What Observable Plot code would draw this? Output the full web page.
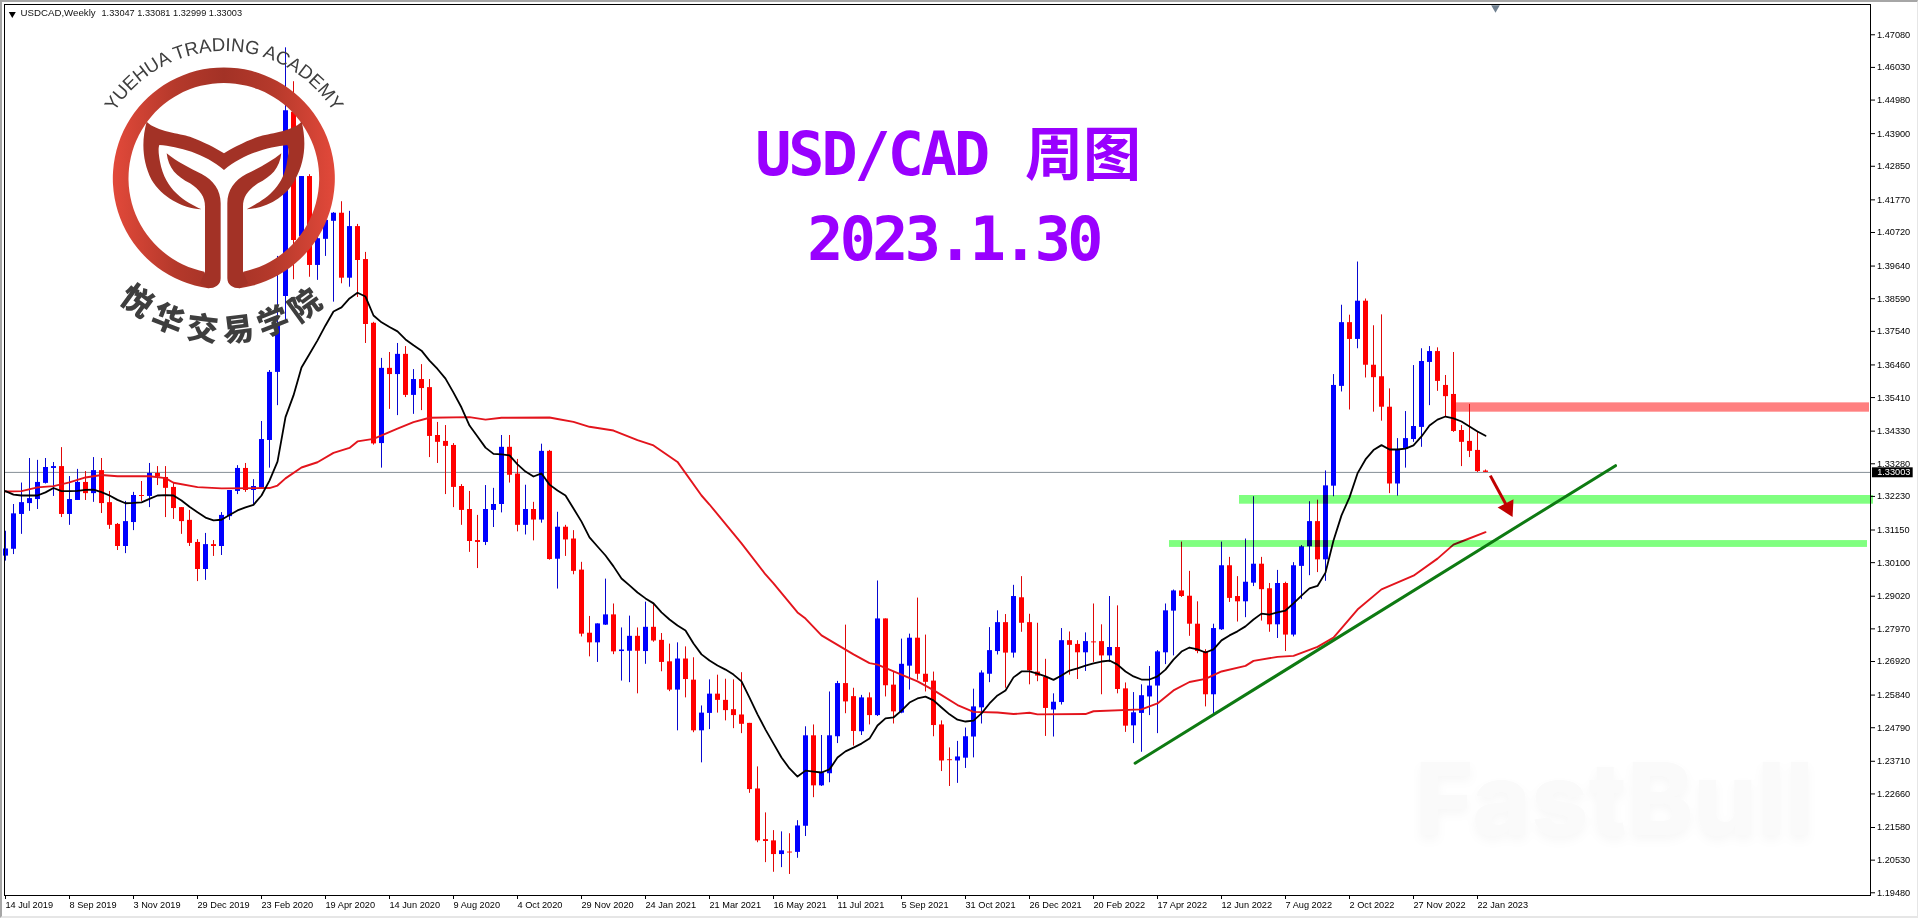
<!DOCTYPE html>
<html>
<head>
<meta charset="utf-8">
<script src="https://cdn.jsdelivr.net/npm/d3@7"></script>
<script src="https://cdn.jsdelivr.net/npm/@observablehq/plot@0.6"></script>
<style>
html,body{margin:0;padding:0;background:#fff;overflow:hidden}
#wrap{position:relative;width:1918px;height:918px;overflow:hidden}
#wrap svg{display:block;background:#fff}
#edge{position:absolute;left:0;top:0;width:1918px;height:918px;box-sizing:border-box;pointer-events:none;
 border-top:2px solid #a6a6a6;border-left:2px solid #a6a6a6;border-bottom:2px solid #e6e6e6;border-right:1px solid #e6e6e6}
.wm{filter:drop-shadow(0 5px 5px rgba(0,0,0,.03))}
.mono1{letter-spacing:-3px}
.mono2{letter-spacing:-3.6px}
</style>
</head>
<body>
<div id="wrap"><div id="chart"></div><div id="edge"></div></div>
<script>
const symbolName = "USDCAD,Weekly";
const lastQuote = "1.33047 1.33081 1.32999 1.33003";
const lastPrice = 1.33003;

const open = [
1.3031,1.3053,1.3165,1.3200,1.3213,1.3265,1.3313,1.3319,1.3165,1.3210,
1.3268,1.3232,1.3306,1.3203,1.3133,1.3062,1.3139,1.3226,1.3223,1.3297,
1.3284,1.3252,1.3187,1.3146,1.3075,1.2988,1.3068,1.3062,1.3158,1.3239,
1.3313,1.3242,1.3250,1.3403,1.3622,1.3866,1.4459,1.4059,1.4252,1.3966,
1.4050,1.4108,1.4134,1.3925,1.4091,1.3985,1.3780,1.3393,1.3635,1.3615,
1.3680,1.3548,1.3599,1.3573,1.3419,1.3400,1.3387,1.3255,1.3181,1.3081,
1.3075,1.3178,1.3197,1.3381,1.3295,1.3130,1.3181,1.3147,1.3368,1.3021,
1.3124,1.3086,1.2986,1.2783,1.2752,1.2809,1.2842,1.2724,1.2725,1.2773,
1.2724,1.2802,1.2760,1.2691,1.2600,1.2700,1.2632,1.2469,1.2525,1.2587,
1.2567,1.2537,1.2520,1.2493,1.2282,1.2119,1.2115,1.2071,1.2079,1.2078,
1.2162,1.2453,1.2292,1.2331,1.2450,1.2621,1.2579,1.2466,1.2575,1.2518,
1.2829,1.2616,1.2526,1.2677,1.2767,1.2651,1.2629,1.2488,1.2376,1.2372,
1.2381,1.2449,1.2543,1.2651,1.2724,1.2817,1.2719,1.2897,1.2817,1.2658,
1.2641,1.2536,1.2560,1.2759,1.2747,1.2720,1.2755,1.2756,1.2710,1.2737,
1.2604,1.2485,1.2525,1.2578,1.2613,1.2720,1.2854,1.2919,1.2902,1.2812,
1.2724,1.2585,1.2794,1.3000,1.2901,1.2884,1.2944,1.3005,1.2926,1.2810,
1.2943,1.2777,1.2998,1.3061,1.3142,1.3019,1.3256,1.3577,1.3782,1.3728,
1.3851,1.3645,1.3608,1.3510,1.3263,1.3374,1.3406,1.3445,1.3654,1.3689,
1.3580,1.3551,1.3435,1.3400,1.3371,1.33047];

const close = [
1.3054,1.3167,1.3203,1.3216,1.3268,1.3316,1.3319,1.3165,1.3213,1.3268,
1.3232,1.3306,1.3200,1.3130,1.3062,1.3142,1.3226,1.3223,1.3297,1.3285,
1.3249,1.3184,1.3142,1.3072,1.2988,1.3068,1.3062,1.3162,1.3242,1.3313,
1.3242,1.3255,1.3406,1.3622,1.3779,1.4464,1.4046,1.4252,1.3966,1.4052,
1.4111,1.4134,1.3925,1.4091,1.3982,1.3776,1.3392,1.3635,1.3615,1.3680,
1.3548,1.3599,1.3570,1.3416,1.3397,1.3384,1.3252,1.3178,1.3078,1.3075,
1.3181,1.3197,1.3381,1.3291,1.3130,1.3181,1.3147,1.3368,1.3020,1.3124,
1.3083,1.2982,1.2780,1.2752,1.2813,1.2842,1.2723,1.2729,1.2773,1.2725,
1.2802,1.2758,1.2689,1.2600,1.2700,1.2634,1.2469,1.2526,1.2587,1.2567,
1.2534,1.2518,1.2490,1.2280,1.2115,1.2113,1.2071,1.2083,1.2076,1.2163,
1.2453,1.2292,1.2334,1.2453,1.2621,1.2562,1.2467,1.2575,1.2518,1.2829,
1.2614,1.2530,1.2683,1.2767,1.2651,1.2625,1.2486,1.2372,1.2373,1.2385,
1.2450,1.2546,1.2655,1.2727,1.2817,1.2719,1.2901,1.2815,1.2662,1.2645,
1.2541,1.2561,1.2759,1.2744,1.2720,1.2756,1.2752,1.2710,1.2737,1.2602,
1.2484,1.2527,1.2582,1.2613,1.2723,1.2855,1.2919,1.2901,1.2812,1.2724,
1.2585,1.2798,1.3000,1.2895,1.2884,1.2947,1.3005,1.2923,1.2810,1.2943,
1.2777,1.3000,1.3061,1.3142,1.3019,1.3257,1.3580,1.3782,1.3728,1.3851,
1.3645,1.3605,1.3510,1.3263,1.3374,1.3409,1.3448,1.3657,1.3689,1.3593,
1.3544,1.3432,1.3397,1.3368,1.3303,1.33003];

const high = [
1.3111,1.3197,1.3266,1.3345,1.3339,1.3345,1.3332,1.3380,1.3287,1.3310,
1.3303,1.3348,1.3345,1.3239,1.3136,1.3207,1.3236,1.3271,1.3329,1.3319,
1.3319,1.3265,1.3187,1.3178,1.3084,1.3104,1.3081,1.3171,1.3242,1.3322,
1.3329,1.3277,1.3464,1.3628,1.3995,1.4666,1.4557,1.4252,1.4258,1.4181,
1.4175,1.4136,1.4171,1.4140,1.4098,1.4008,1.3783,1.3667,1.3686,1.3715,
1.3705,1.3631,1.3647,1.3599,1.3461,1.3451,1.3393,1.3261,1.3239,1.3162,
1.3258,1.3249,1.3419,1.3419,1.3342,1.3259,1.3204,1.3391,1.3371,1.3172,
1.3130,1.3113,1.3011,1.2837,1.2813,1.2957,1.2877,1.2800,1.2838,1.2800,
1.2883,1.2876,1.2782,1.2748,1.2752,1.2739,1.2704,1.2549,1.2633,1.2648,
1.2635,1.2633,1.2656,1.2493,1.2353,1.2205,1.2148,1.2144,1.2138,1.2180,
1.2482,1.2488,1.2454,1.2594,1.2628,1.2809,1.2606,1.2583,1.2591,1.2951,
1.2829,1.2657,1.2764,1.2780,1.2896,1.2777,1.2658,1.2501,1.2414,1.2435,
1.2478,1.2603,1.2662,1.2801,1.2855,1.2843,1.2937,1.2965,1.2844,1.2815,
1.2699,1.2588,1.2798,1.2787,1.2759,1.2784,1.2877,1.2810,1.2901,1.2871,
1.2623,1.2592,1.2617,1.2676,1.2727,1.2877,1.2922,1.3076,1.2982,1.2884,
1.2730,1.2812,1.3076,1.3027,1.2965,1.3086,1.3222,1.3027,1.2943,1.2985,
1.2947,1.3010,1.3065,1.3206,1.3211,1.3305,1.3615,1.3838,1.3806,1.3977,
1.3858,1.3772,1.3807,1.3569,1.3409,1.3496,1.3644,1.3698,1.3705,1.3701,
1.3612,1.3686,1.3451,1.3519,1.3432,1.33081];

const low = [
1.3015,1.3036,1.3101,1.3175,1.3181,1.3263,1.3223,1.3155,1.3130,1.3210,
1.3210,1.3204,1.3168,1.3117,1.3049,1.3039,1.3113,1.3207,1.3187,1.3258,
1.3155,1.3149,1.3101,1.3062,1.2949,1.2953,1.3030,1.3033,1.3146,1.3229,
1.3236,1.3194,1.3249,1.3314,1.3515,1.3787,1.3920,1.4053,1.3928,1.3918,
1.3995,1.3848,1.3907,1.3896,1.3863,1.3715,1.3388,1.3314,1.3503,1.3483,
1.3541,1.3487,1.3499,1.3348,1.3329,1.3229,1.3187,1.3130,1.3043,1.2991,
1.3065,1.3123,1.3170,1.3266,1.3109,1.3099,1.3080,1.3137,1.3018,1.2925,
1.3030,1.2971,1.2771,1.2707,1.2689,1.2808,1.2714,1.2629,1.2624,1.2588,
1.2683,1.2754,1.2659,1.2595,1.2469,1.2575,1.2463,1.2366,1.2473,1.2526,
1.2501,1.2476,1.2460,1.2268,1.2109,1.2045,1.2014,1.2029,1.2007,1.2059,
1.2129,1.2254,1.2290,1.2302,1.2428,1.2524,1.2420,1.2454,1.2488,1.2515,
1.2578,1.2491,1.2524,1.2600,1.2632,1.2594,1.2450,1.2338,1.2290,1.2300,
1.2348,1.2382,1.2491,1.2624,1.2713,1.2606,1.2703,1.2786,1.2617,1.2627,
1.2451,1.2449,1.2552,1.2648,1.2634,1.2660,1.2689,1.2585,1.2689,1.2588,
1.2464,1.2428,1.2400,1.2518,1.2460,1.2682,1.2710,1.2898,1.2773,1.2717,
1.2546,1.2523,1.2792,1.2882,1.2819,1.2833,1.2933,1.2822,1.2786,1.2766,
1.2724,1.2771,1.2891,1.2968,1.2978,1.2950,1.3222,1.3559,1.3501,1.3698,
1.3604,1.3494,1.3465,1.3232,1.3224,1.3314,1.3397,1.3381,1.3515,1.3561,
1.3480,1.3429,1.3319,1.3348,1.3300,1.32999];

// fast moving average, one reading per bar
const maFast = [
1.3240,1.3229,1.3226,1.3226,1.3226,1.3236,1.3250,1.3240,1.3240,1.3241,
1.3244,1.3245,1.3237,1.3226,1.3212,1.3201,1.3202,1.3204,1.3215,1.3226,
1.3227,1.3226,1.3210,1.3190,1.3172,1.3155,1.3146,1.3148,1.3163,1.3178,
1.3188,1.3196,1.3226,1.3274,1.3335,1.3478,1.3548,1.3638,1.3681,1.3725,
1.3773,1.3818,1.3831,1.3860,1.3878,1.3866,1.3805,1.3783,1.3768,1.3754,
1.3728,1.3709,1.3692,1.3660,1.3633,1.3602,1.3557,1.3509,1.3451,1.3416,
1.3380,1.3360,1.3358,1.3355,1.3326,1.3303,1.3287,1.3297,1.3261,1.3242,
1.3226,1.3184,1.3142,1.3091,1.3062,1.3033,1.2998,1.2959,1.2937,1.2914,
1.2895,1.2879,1.2850,1.2827,1.2808,1.2792,1.2750,1.2715,1.2695,1.2679,
1.2666,1.2650,1.2628,1.2576,1.2522,1.2473,1.2428,1.2383,1.2348,1.2322,
1.2341,1.2338,1.2335,1.2345,1.2383,1.2403,1.2415,1.2428,1.2444,1.2486,
1.2509,1.2512,1.2534,1.2560,1.2573,1.2579,1.2567,1.2544,1.2522,1.2505,
1.2499,1.2502,1.2525,1.2557,1.2583,1.2599,1.2641,1.2660,1.2660,1.2653,
1.2644,1.2633,1.2647,1.2663,1.2670,1.2679,1.2686,1.2692,1.2695,1.2682,
1.2660,1.2644,1.2634,1.2634,1.2644,1.2666,1.2698,1.2724,1.2737,1.2731,
1.2721,1.2731,1.2760,1.2776,1.2789,1.2805,1.2827,1.2846,1.2843,1.2850,
1.2856,1.2879,1.2904,1.2927,1.2935,1.2978,1.3081,1.3162,1.3220,1.3297,
1.3342,1.3372,1.3388,1.3374,1.3374,1.3377,1.3387,1.3416,1.3451,1.3470,
1.3480,1.3474,1.3464,1.3448,1.3432,1.3418];

// slow moving average, read at the bars where its slope changes
const maSlowBar = [0,2,4,6,8,10,12,14,18,20,21,24,27,33,34,35,37,39,41,43,44,46,49,51,53,58,60,62,68,69,71,73,76,79,81,84,87,88,92,95,96,99,100,102,106,108,109,114,116,119,121,124,126,128,129,135,136,142,144,146,148,150,152,155,156,159,161,164,166,169,172,176,179,181,182,185];
const maSlow = [1.3239,1.3240,1.3252,1.3256,1.3268,1.3284,1.3292,1.3288,1.3288,1.3282,1.3267,1.3253,1.3249,1.3250,1.3258,1.3281,1.3316,1.3333,1.3363,1.3379,1.3400,1.3408,1.3441,1.3462,1.3476,1.3478,1.3470,1.3476,1.3477,1.3472,1.3463,1.3447,1.3435,1.3404,1.3387,1.3334,1.3226,1.3197,1.3072,1.2972,1.2943,1.2850,1.2830,1.2776,1.2715,1.2687,1.2682,1.2628,1.2600,1.2552,1.2530,1.2528,1.2523,1.2527,1.2522,1.2523,1.2532,1.2538,1.2557,1.2599,1.2626,1.2636,1.2660,1.2678,1.2694,1.2707,1.2710,1.2739,1.2769,1.2859,1.2924,1.2968,1.3023,1.3068,1.3078,1.3108];

const xTickBars = [0,8,16,24,32,40,48,56,64,72,80,88,96,104,112,120,128,136,144,152,160,168,176,184];
const xTickLabels = ["14 Jul 2019","8 Sep 2019","3 Nov 2019","29 Dec 2019","23 Feb 2020","19 Apr 2020","14 Jun 2020","9 Aug 2020","4 Oct 2020","29 Nov 2020","24 Jan 2021","21 Mar 2021","16 May 2021","11 Jul 2021","5 Sep 2021","31 Oct 2021","26 Dec 2021","20 Feb 2022","17 Apr 2022","12 Jun 2022","7 Aug 2022","2 Oct 2022","27 Nov 2022","22 Jan 2023"];
const yTickValues = [1.4708,1.4603,1.4498,1.4390,1.4285,1.4177,1.4072,1.3964,1.3859,1.3754,1.3646,1.3541,1.3433,1.3328,1.3223,1.3115,1.3010,1.2902,1.2797,1.2692,1.2584,1.2479,1.2371,1.2266,1.2158,1.2053,1.1948];

// drawn analysis objects, in bar number and price
const zoneBars = [[181.3,233],[154.25,233.5],[145.5,232.75]];
const zonePrices = [[1.3494,1.3524],[1.3198,1.3226],[1.3059,1.3081]];
const zoneColors = ["#ff8080","#80ff80","#80ff80"];
const trendBars = [141.2,201.25];
const trendPrices = [1.2365,1.3322];
const arrowBars = [185.6,187.8];
const arrowPrices = [1.3290,1.3186];

const candles = d3.range(open.length).map(i => ({i, open:open[i], close:close[i], high:high[i], low:low[i], up: close[i] >= open[i]}));
const fast = maFast.map((v,i) => ({i, v}));
const slow = maSlow.map((v,k) => ({i: maSlowBar[k], v}));
const trend = trendBars.map((b,k) => ({i:b, v:trendPrices[k]}));
const zones = zoneBars.map((b,k) => ({x1:b[0], x2:b[1], y1:zonePrices[k][0], y2:zonePrices[k][1], c:zoneColors[k]}));
const UP = "#0000ff", DOWN = "#ff0000";
const sansFont = "Liberation Sans";
const tickFont = 9.2;
const cjk = "Noto Sans CJK SC";

function logo() {
  const g = document.createElementNS("http://www.w3.org/2000/svg","g");
  g.setAttribute("transform","scale(0.33333)");
  g.innerHTML = `
  <defs>
   <linearGradient id="ringGrad" gradientUnits="userSpaceOnUse" x1="338" x2="1005" y1="0" y2="0">
    <stop offset="0" stop-color="#e2493a"/><stop offset="0.28" stop-color="#b5392b"/>
    <stop offset="0.5" stop-color="#a33226"/><stop offset="0.72" stop-color="#b5392b"/>
    <stop offset="1" stop-color="#e2493a"/>
   </linearGradient>
   <path id="arcTop" d="M 285 540 A 387 387 0 0 1 1059 540"/>
   <path id="arcBot" d="M 208 560 A 464 464 0 0 0 1136 560"/>
  </defs>
  <path fill="url(#ringGrad)" d="M625,865 A333,333 0 1 1 718,865 L730,815 A286,286 0 1 0 613,815 Z"/>
  <path fill="#a33226" d="M440,365 C470,395 540,400 570,410 C610,425 650,445 672,460 C695,445 735,425 775,410 C805,400 875,395 905,365 C918,420 918,480 885,540 C860,590 800,625 740,628 C790,600 850,570 862,480 C866,460 866,445 862,435 C810,440 730,460 672,510 C615,460 535,440 478,435 C474,445 476,465 480,485 C495,570 555,605 605,628 C545,625 485,590 455,540 C425,480 425,420 440,365 Z"/>
  <path fill="#a33226" d="M500,460 C530,485 570,505 605,522 C640,540 662,570 662,610 L662,835 C662,855 645,865 625,865 L600,850 L615,815 L615,620 C615,590 600,570 570,550 C530,530 505,505 500,460 Z"/>
  <path fill="#a33226" d="M844,460 C814,485 774,505 739,522 C704,540 682,570 682,610 L682,835 C682,855 699,865 719,865 L744,850 L729,815 L729,620 C729,590 744,570 774,550 C814,530 839,505 844,460 Z"/>
  <text font-family="${sansFont}" font-size="56" fill="#3e3e3e" text-anchor="middle"><textPath href="#arcTop" startOffset="50%">YUEHUA TRADING ACADEMY</textPath></text>
  <text font-family="${cjk}" font-size="94" font-weight="900" fill="#3e3e3e" text-anchor="middle" letter-spacing="22"><textPath href="#arcBot" startOffset="50%">悦华交易学院</textPath></text>`;
  return g;
}

const chart = Plot.plot({
  width: 1918, height: 918,
  marginTop: 4, marginLeft: 4, marginRight: 48, marginBottom: 23,
  style: {fontFamily: sansFont, background: "#fff", color: "#000"},
  x: {type: "linear", domain: [-0.125, 233.125]},
  y: {type: "linear", domain: [1.19393, 1.48054]},
  marks: [
    Plot.text(["FastBull"], {x: () => 176.2, y: () => 1.2133, text: d => d, textAnchor: "start", lineAnchor: "bottom",
      fontFamily: "Inter", fontWeight: 800, fontSize: 100, fill: "#fafafa", className: "wm"}),
    Plot.axisX({ticks: xTickBars, tickFormat: b => xTickLabels[xTickBars.indexOf(b)], textAnchor: "start", tickSize: 4, tickPadding: 1.5, fontSize: tickFont, label: null, anchor: "bottom"}),
    Plot.axisY({ticks: yTickValues, tickFormat: d3.format(".5f"), anchor: "right", tickSize: 4, tickPadding: 2.5, fontSize: tickFont, label: null}),
    Plot.ruleY([lastPrice], {stroke: "#868e96", strokeWidth: 1}),
    Plot.ruleX(candles, {x: "i", y1: "low", y2: "high", stroke: d => d.up ? "#0808d0" : "#e00808", strokeWidth: 1}),
    Plot.ruleX(candles, {x: "i", y1: "open", y2: "close", stroke: d => d.up ? UP : DOWN, strokeWidth: 5}),
    Plot.line(slow, {x: "i", y: "v", stroke: "#e3141c", strokeWidth: 1.9}),
    Plot.line(fast, {x: "i", y: "v", stroke: "#000", strokeWidth: 1.8}),
    Plot.rect(zones, {x1: "x1", x2: "x2", y1: "y1", y2: "y2", fill: "c", mixBlendMode: "multiply", inset: 0}),
    Plot.line(trend, {x: "i", y: "v", stroke: "#0e7a12", strokeWidth: 3}),
    Plot.link([0], {x1: () => arrowBars[0], y1: () => arrowPrices[0], x2: () => arrowBars[1], y2: () => arrowPrices[1], stroke: "#c00000", strokeWidth: 3}),
    Plot.dot([0], {x: () => arrowBars[1], y: () => arrowPrices[1], symbol: "triangle", r: 6.6, rotate: 153, fill: "#c00000", stroke: "none"}),
    Plot.frame({stroke: "#000"}),
    Plot.rect([0], {x1: () => 233.37, x2: () => 238.46, y1: () => 1.3283, y2: () => 1.3315, fill: "#000"}),
    Plot.text([lastPrice], {x: () => 233.96, y: d => d, text: d3.format(".5f"), textAnchor: "start", fill: "#fff", fontSize: tickFont}),
    Plot.dot([0], {x: () => 186.25, y: () => 1.4795, symbol: "triangle", r: 3.2, rotate: 180, fill: "#708090", stroke: "none"}),
    Plot.dot([0], {x: () => 0.85, y: () => 1.4775, symbol: "triangle", r: 2.6, rotate: 180, fill: "#000", stroke: "none"}),
    Plot.text([symbolName], {x: () => 1.875, y: () => 1.4767, text: d => d, textAnchor: "start", lineAnchor: "bottom", fontSize: 9.7, fill: "#111"}),
    Plot.text([lastQuote], {x: () => 12.0, y: () => 1.4767, text: d => d, textAnchor: "start", lineAnchor: "bottom", fontSize: 9.2, fill: "#111"}),
    () => logo(),
    Plot.text(["USD/CAD"], {x: () => 108.2, y: () => 1.42554, text: d => d, lineAnchor: "bottom", fontFamily: "DejaVu Sans Mono", fontWeight: 700, fontSize: 60, fill: "#9900ff", className: "mono1"}),
    Plot.text(["周图"], {x: () => 134.7, y: () => 1.42554, text: d => d, lineAnchor: "bottom", fontFamily: cjk, fontWeight: 700, fontSize: 58, fill: "#9900ff"}),
    Plot.text(["2023.1.30"], {x: () => 118.5, y: () => 1.39851, text: d => d, lineAnchor: "bottom", fontFamily: "DejaVu Sans Mono", fontWeight: 700, fontSize: 60, fill: "#9900ff", className: "mono2"})
  ]
});
document.getElementById("chart").appendChild(chart);
</script>
</body>
</html>
